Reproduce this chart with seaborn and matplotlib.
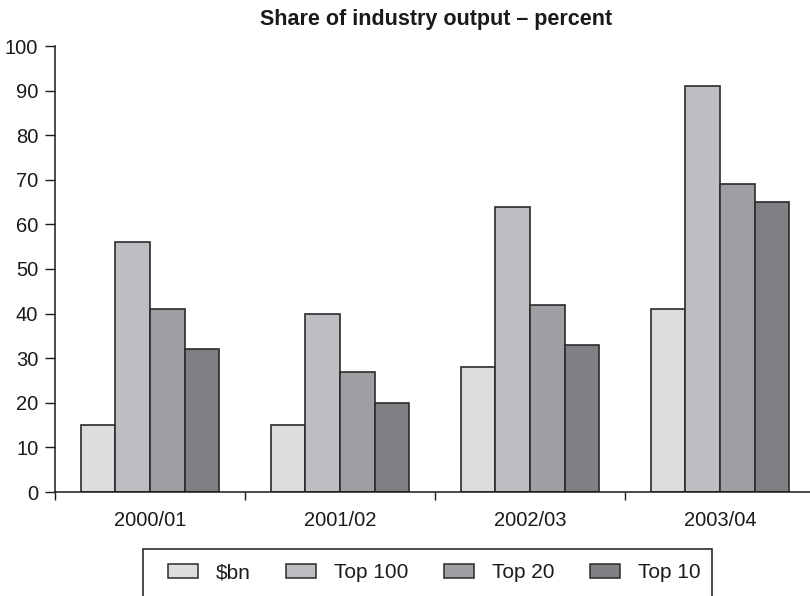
import matplotlib
matplotlib.use("Agg")
import matplotlib.pyplot as plt
from matplotlib.patches import Patch, Rectangle
import seaborn as sns
import pandas as pd

years = ["2000/01", "2001/02", "2002/03", "2003/04"]
series = ["$bn", "Top 100", "Top 20", "Top 10"]
bn = [15, 15, 28, 41]
top100 = [56, 40, 64, 91]
top20 = [41, 27, 42, 69]
top10 = [32, 20, 33, 65]
yticks = list(range(0, 101, 10))

colors = ["#dcdddf", "#bdbec2", "#9e9fa3", "#7f8084"]
edge = "#2b2b2b"
ink = "#1a1a1a"

rows = []
for name, vals in zip(series, [bn, top100, top20, top10]):
    for y, v in zip(years, vals):
        rows.append({"year": y, "series": name, "value": v})
df = pd.DataFrame(rows)

sns.set_theme(style="white")
plt.rcParams["font.family"] = ["Liberation Sans", "DejaVu Sans"]

fig = plt.figure(figsize=(8.1, 5.96), dpi=100)
W, H = 810, 596
ax = fig.add_axes([55 / W, (H - 492) / H, 760 / W, (492 - 46) / H])

sns.barplot(data=df, x="year", y="value", hue="series", order=years,
            hue_order=series, palette=colors, edgecolor=edge, linewidth=1.2,
            width=0.73, saturation=1, ax=ax, legend=False)

ax.set_xlim(-0.5, 3.5)
ax.set_ylim(0, 100)
ax.set_yticks(yticks)
ax.set_yticklabels([str(t) for t in yticks], fontsize=14.5, color=ink)
ax.set_xticks(range(len(years)))
ax.set_xticklabels(years, fontsize=14.5, color=ink)
ax.set_xticks([-0.5, 0.5, 1.5, 2.5, 3.5], minor=True)
ax.tick_params(axis="x", which="major", length=0, pad=14)
ax.tick_params(axis="x", which="minor", length=6, width=1, color=ink,
               direction="out", bottom=True)
ax.tick_params(axis="y", length=7, width=1, color=ink, direction="out",
               left=True, pad=5)
ax.set_xlabel("")
ax.set_ylabel("")
for s in ["top", "right"]:
    ax.spines[s].set_visible(False)
for s in ["left", "bottom"]:
    ax.spines[s].set_color(ink)
    ax.spines[s].set_linewidth(1.1)

fig.text(436 / W, 1 - 20 / H, "Share of industry output – percent",
         ha="center", va="center", fontsize=15.5, fontweight="bold",
         color=ink)

# Legend frame, open at the bottom edge of the figure
top = (H - 549) / H
fig.patches.append(Rectangle((143 / W, -0.05), (712 - 143) / W, top + 0.05,
                             transform=fig.transFigure, fill=False,
                             edgecolor=ink, linewidth=1.1, clip_on=False))
handles = [Patch(facecolor=c, edgecolor=edge, linewidth=1.1, label=n)
           for c, n in zip(colors, series)]
fig.legend(handles=handles, ncol=4, frameon=False, fontsize=15,
           loc="center", bbox_to_anchor=(434 / W, 1 - 573 / H),
           handlelength=1.45, handleheight=0.65, columnspacing=1.7,
           handletextpad=0.85, labelcolor=ink, borderpad=0, borderaxespad=0)

fig.savefig("out.png", dpi=100)
